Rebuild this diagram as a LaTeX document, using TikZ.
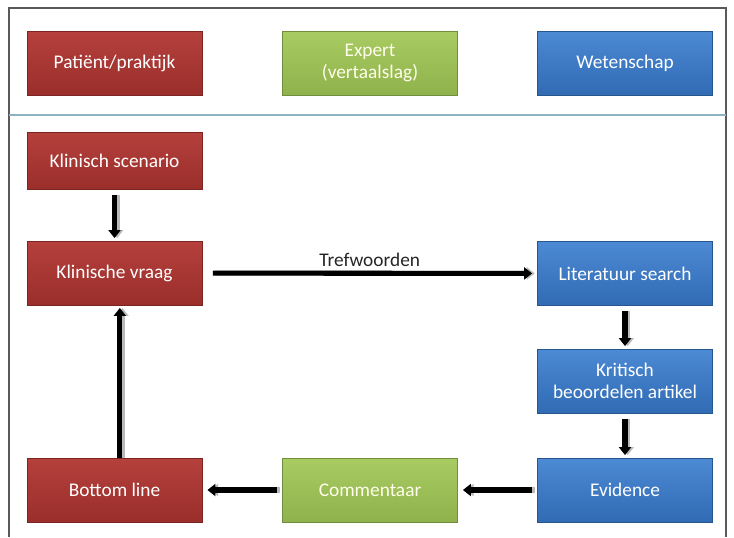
\documentclass[tikz,border=0pt]{standalone}
\usepackage{fontspec}
\setmainfont{Carlito}
\usetikzlibrary{arrows.meta}

\definecolor{pracred}{HTML}{B5403C}
\definecolor{pracreddark}{HTML}{9A2E2B}
\definecolor{expgreen}{HTML}{A8CB62}
\definecolor{expgreendark}{HTML}{8FB24C}
\definecolor{sciblue}{HTML}{4C8AD3}
\definecolor{scibluedark}{HTML}{306BB4}

\begin{document}
\begin{tikzpicture}[x=0.75pt,y=-0.75pt,
  every node/.style={font=\fontsize{14.5}{16}\selectfont,align=center,
    minimum width=131pt,minimum height=48pt,inner sep=2pt},
  redbox/.style={top color=pracred,bottom color=pracreddark,draw=pracreddark!80!black,text=white},
  greenbox/.style={top color=expgreen,bottom color=expgreendark,draw=expgreendark!80!black,text=yellow!8},
  bluebox/.style={top color=sciblue,bottom color=scibluedark,draw=scibluedark!80!black,text=white},
  flow/.style={line width=3.8pt,-{Triangle[width=9pt,length=6pt]},
    preaction={draw=gray!55,line width=3.8pt,-{Triangle[width=9pt,length=6pt]},transform canvas={shift={(2pt,0pt)}}}}]
  \useasboundingbox (0,0) rectangle (734,537);
  \fill[white] (0,0) rectangle (734,537);
  % frame and separator
  \draw[gray!70!black,line width=1pt] (9,537) -- (9,8) -- (726,8) -- (726,537);
  \draw[blue!25!cyan!30!gray!70,line width=1.5pt] (9,115) -- (726,115);
  % headers
  \node[redbox] (pat) at (114.5,63) {Patiënt/praktijk};
  \node[greenbox] (exp) at (370,63) {Expert\\(vertaalslag)};
  \node[bluebox] (wet) at (625,63) {Wetenschap};
  % steps
  \node[redbox,minimum height=43pt] (scen) at (114.5,161) {Klinisch scenario};
  \node[redbox] (vraag) at (114.5,273) {Klinische vraag};
  \node[bluebox] (lit) at (625,273.5) {Literatuur search};
  \node[bluebox] (krit) at (625,381) {Kritisch\\beoordelen artikel};
  \node[bluebox] (evid) at (625,490) {Evidence};
  \node[greenbox] (comm) at (370,490) {Commentaar};
  \node[redbox] (bot) at (114.5,490) {Bottom line};
  % connectors
  \draw[flow,shorten <=4pt,shorten >=2pt] (scen) -- (vraag);
  \draw[flow,shorten <=8pt,shorten >=4pt] (vraag) -- node[above=1pt,minimum width=0pt,minimum height=0pt,text=black!85] (tref) {Trefwoorden} (lit);
  \draw[flow,shorten <=4pt,shorten >=2pt] (lit) -- (krit);
  \draw[flow,shorten <=4pt,shorten >=2pt] (krit) -- (evid);
  \draw[flow,shorten <=4pt,shorten >=4pt] (evid) -- (comm);
  \draw[flow,shorten <=4pt,shorten >=4pt] (comm) -- (bot);
  \draw[flow,shorten >=2pt] ([xshift=4pt]bot.north) -- ([xshift=4pt]vraag.south);
\end{tikzpicture}
\end{document}
